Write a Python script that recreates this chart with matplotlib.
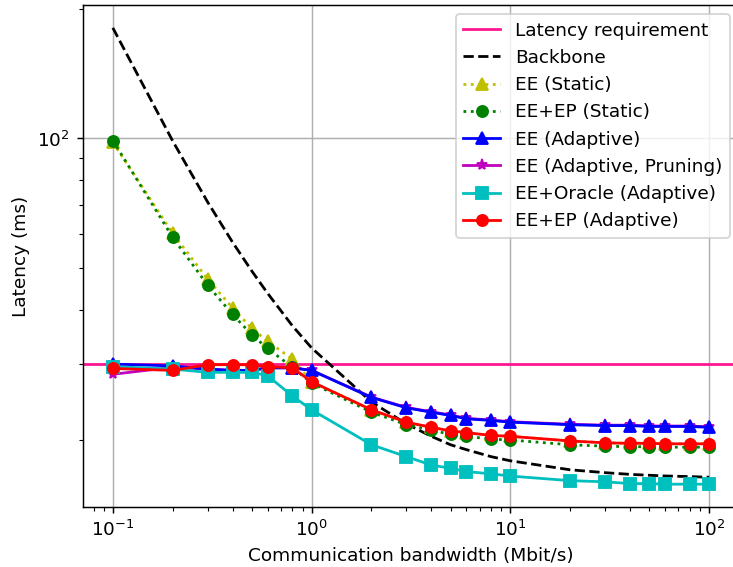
import matplotlib
matplotlib.use("Agg")
from matplotlib import pyplot as plt

# bandwidth points (Mbit/s)
bw = [0.1, 0.2, 0.3, 0.4, 0.5, 0.6, 0.8, 1, 2, 3, 4, 5, 6, 8, 10, 20, 30, 40, 50, 60, 80, 100]

latency_req = 30

backbone = [180.5, 98.7, 71.2, 57.5, 49.3, 43.8, 36.8, 32.7, 24.5, 21.8, 20.4, 19.5, 19.0, 18.3,
            17.9, 17.06, 16.8, 16.65, 16.57, 16.51, 16.45, 16.4]
ee_static = [98.0, 60.3, 47.2, 40.5, 36.3, 33.9, 30.8, 27.3, 23.5, 22.0, 21.4, 21.0, 20.8, 20.5,
             20.4, 19.9, 19.7, 19.65, 19.65, 19.6, 19.6, 19.6]
ee_ep_static = [98.9, 59.0, 45.7, 39.1, 35.1, 32.6, 29.5, 27.1, 23.2, 21.7, 21.1, 20.6, 20.4, 20.1,
                20.0, 19.5, 19.35, 19.3, 19.3, 19.25, 19.25, 19.25]
ee_adapt = [30.0, 29.7, 29.2, 29.0, 29.0, 29.4, 29.4, 29.0, 25.1, 23.75, 23.2, 22.8, 22.4, 22.2,
            22.0, 21.7, 21.6, 21.6, 21.5, 21.5, 21.5, 21.4]
ee_prune = [28.4, 29.5, 29.2, 29.0, 29.0, 29.4, 29.4, 29.0, 25.15, 23.8, 23.25, 22.85, 22.45, 22.25,
            22.05, 21.75, 21.65, 21.65, 21.55, 21.55, 21.55, 21.45]
ee_oracle = [29.6, 29.2, 28.7, 28.7, 28.7, 28.2, 25.3, 23.5, 19.5, 18.3, 17.5, 17.2, 16.9, 16.7,
             16.5, 16.1, 16.0, 15.85, 15.85, 15.8, 15.8, 15.8]
ee_ep_adapt = [29.3, 29.0, 29.9, 29.9, 29.9, 29.6, 29.4, 27.3, 23.5, 22.0, 21.4, 21.0, 20.8, 20.5,
               20.4, 19.9, 19.7, 19.65, 19.65, 19.6, 19.6, 19.6]

fig = plt.figure(figsize=(733 / 133, 567 / 133), dpi=133)
ax = fig.add_axes([83 / 733, 60 / 567, 656 / 733, 502 / 567])

ax.axhline(latency_req, color='deeppink', label='Latency requirement')
ax.plot(bw, backbone, 'k--', label='Backbone')
ax.plot(bw, ee_static, 'y^:', label='EE (Static)')
ax.plot(bw, ee_ep_static, 'go:', label='EE+EP (Static)')
ax.plot(bw, ee_adapt, 'b^-', label='EE (Adaptive)', zorder=2.1)
ax.plot(bw, ee_prune, 'm*-', label='EE (Adaptive, Pruning)', zorder=2.05)
ax.plot(bw, ee_oracle, 'cs-', label='EE+Oracle (Adaptive)', zorder=2.2)
ax.plot(bw, ee_ep_adapt, 'ro-', label='EE+EP (Adaptive)', zorder=2.3)

ax.set_xscale('log')
ax.set_yscale('log')
ax.set_xlabel('Communication bandwidth (Mbit/s)')
ax.set_ylabel('Latency (ms)')
ax.grid(True)
ax.legend(loc='upper right')

fig.savefig('out.png', dpi=133)
